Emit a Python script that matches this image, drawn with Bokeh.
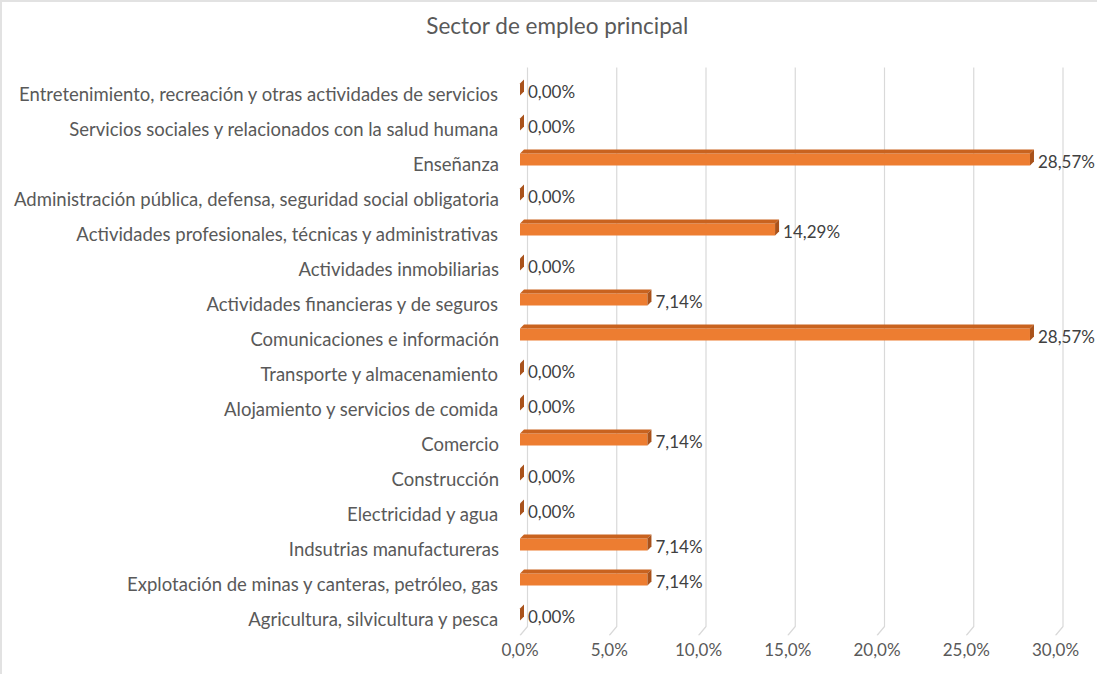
from bokeh.plotting import figure
from bokeh.models import Range1d, FixedTicker, ColumnDataSource
from bokeh.embed import file_html
from bokeh.resources import INLINE
from bokeh.core.properties import value

# ---------------- data ----------------
categories = [
    "Agricultura, silvicultura y pesca",
    "Explotación de minas y canteras, petróleo, gas",
    "Indsutrias manufactureras",
    "Electricidad y agua",
    "Construcción",
    "Comercio",
    "Alojamiento y servicios de comida",
    "Transporte y almacenamiento",
    "Comunicaciones e información",
    "Actividades financieras y de seguros",
    "Actividades inmobiliarias",
    "Actividades profesionales, técnicas y administrativas",
    "Administración pública, defensa, seguridad social obligatoria",
    "Enseñanza",
    "Servicios sociales y relacionados con la salud humana",
    "Entretenimiento, recreación y otras actividades de servicios",
]
values = [0.00, 7.14, 7.14, 0.00, 0.00, 7.14, 0.00, 0.00,
          28.57, 7.14, 0.00, 14.29, 0.00, 28.57, 0.00, 0.00]
value_labels = [("%.2f%%" % v).replace(".", ",") for v in values]
x_ticks = [0, 5, 10, 15, 20, 25, 30]
x_tick_labels = ["0,0%", "5,0%", "10,0%", "15,0%", "20,0%", "25,0%", "30,0%"]
title_text = "Sector de empleo principal"

# ---------------- layout ----------------
W, H = 1097, 674
BL, BR, BT, BB = 0, 0, 0, 41
frame_w = W - BL - BR
frame_h = H - BT - BB
PX_PCT = 17.85
PX_CAT = 35.0
ZERO_PX = 517.5                               # px from canvas left to value 0
x0 = -ZERO_PX / PX_PCT
x1 = x0 + frame_w / PX_PCT
y0 = -18.0 / PX_CAT
y1 = y0 + frame_h / PX_CAT
GRID_TOP = y0 + (frame_h - 65) / PX_CAT       # gridlines start 65px below canvas top
TITLE_X = x0 + 555.0 / PX_PCT
TITLE_Y = y0 + (frame_h - 23) / PX_CAT

DX = 4.0 / PX_PCT          # 3D depth horizontally
DY = 4.0 / PX_CAT          # 3D depth vertically
F_BOT = -3.0 / PX_CAT      # front face bottom relative to category
F_TOP = 9.0 / PX_CAT       # front face top relative to category
GDX = 7.5 / PX_PCT         # gridline back offset
GDIAG = 9.0 / PX_CAT

FONT = "Lato"
TXT = "#595959"

p = figure(width=W, height=H, x_range=Range1d(x0, x1), y_range=Range1d(y0, y1),
           output_backend="svg", toolbar_location=None,
           min_border_left=BL, min_border_right=BR, min_border_top=BT, min_border_bottom=BB)
p.styles = {"border-top": "2px solid #e2e2e2", "border-left": "2px solid #e2e2e2"}
p.outline_line_color = None
p.xgrid.visible = False
p.ygrid.visible = False
p.yaxis.visible = False

# title
p.text(x=[TITLE_X], y=[TITLE_Y], text=[title_text], text_font=value(FONT),
       text_font_size="22.5px", text_color=TXT, text_align="center",
       text_baseline="middle")

# gridlines (back wall + floor diagonal)
gx_v, gy_v = [], []
for t in x_ticks:
    gx_v.append([t + GDX, t + GDX, t])
    gy_v.append([GRID_TOP, y0 + GDIAG, y0])
p.multi_line(xs=gx_v, ys=gy_v, line_color="#d9d9d9", line_width=1.2)

ys = list(range(len(categories)))

# category labels
p.text(x=[0] * len(categories), y=ys, text=categories, x_offset=-21, y_offset=1,
       text_font=value(FONT), text_font_size="18.5px", text_color=TXT,
       text_align="right", text_baseline="middle")

# front faces
src = ColumnDataSource(dict(
    left=[0] * len(values), right=values,
    bottom=[y + F_BOT for y in ys], top=[y + F_TOP for y in ys],
))
p.quad(left="left", right="right", bottom="bottom", top="top", source=src,
       fill_color="#ed7d31", line_color=None)

# top and side faces
top_xs, top_ys, side_xs, side_ys = [], [], [], []
for v, y in zip(values, ys):
    top_xs.append([0, v, v + DX, DX])
    top_ys.append([y + F_TOP, y + F_TOP, y + F_TOP + DY, y + F_TOP + DY])
    side_xs.append([v, v + DX, v + DX, v])
    side_ys.append([y + F_BOT, y + F_BOT + DY, y + F_TOP + DY, y + F_TOP])
p.patches(xs=top_xs, ys=top_ys, fill_color="#c9631f", line_color=None)
p.patches(xs=side_xs, ys=side_ys, fill_color="#a9521b", line_color=None)

# data labels
p.text(x=values, y=ys, text=value_labels, x_offset=8, y_offset=-1,
       text_font=value(FONT), text_font_size="17px", text_color="#404040",
       text_baseline="middle", text_align="left")

# x axis
p.xaxis.ticker = FixedTicker(ticks=x_ticks)
p.xaxis.major_label_overrides = {t: l for t, l in zip(x_ticks, x_tick_labels)}
ax = p.xaxis[0]
ax.axis_line_color = None
ax.major_tick_line_color = None
ax.minor_tick_line_color = None
ax.major_tick_out = 0
ax.major_tick_in = 0
ax.minor_tick_out = 0
ax.minor_tick_in = 0
ax.major_label_text_font = FONT
ax.major_label_text_color = TXT
ax.major_label_text_font_size = "17px"
ax.major_label_standoff = 3

open("out.html", "w").write(file_html(p, INLINE))
